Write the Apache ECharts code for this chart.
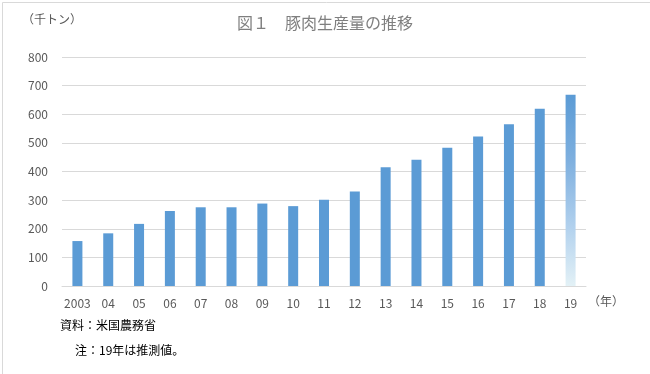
<!DOCTYPE html>
<html><head><meta charset="utf-8">
<script src="https://cdn.jsdelivr.net/npm/echarts@6/dist/echarts.min.js"></script>
<style>html,body{margin:0;padding:0;background:#fff;}#c{width:650px;height:374px;}</style>
</head><body><div id="c"></div>
<script>
const categories = ['2003','04','05','06','07','08','09','10','11','12','13','14','15','16','17','18','19'];
const production = [157,184,217,262,275,275,288,279,301,330,415,441,483,522,565,619,668];
const yTicks = [0,100,200,300,400,500,600,700,800];

const FONT = '"Noto Sans CJK JP", "Noto Sans", sans-serif';
const barBlue = '#5b9bd5';
const data = production.map((v, i) => {
  if (i === production.length - 1) {
    return { value: v, itemStyle: { color: new echarts.graphic.LinearGradient(0,0,0,1,[
      {offset:0,color:'#5b9bd5'},{offset:0.35,color:'#7fb0df'},{offset:0.7,color:'#b3d2ee'},{offset:1,color:'#e3f1f6'}]) } };
  }
  return v;
});

const chart = echarts.init(document.getElementById('c'), null, {renderer:'canvas'});
chart.setOption({
  backgroundColor: '#ffffff',
  animation: false,
  title: {
    text: '図１　豚肉生産量の推移', left: 'center', top: 10,
    textStyle: { fontFamily: FONT, fontSize: 16, fontWeight: 'normal', color: '#7f7f7f' }
  },
  grid: { left: 62, right: 64, top: 57, bottom: 88, containLabel: false },
  xAxis: {
    type: 'category', data: categories,
    axisLine: { lineStyle: { color: '#d9d9d9' } },
    axisTick: { show: false },
    axisLabel: { interval: 0, color: '#595959', fontSize: 12, fontFamily: FONT, margin: 11 }
  },
  yAxis: {
    type: 'value', min: yTicks[0], max: yTicks[yTicks.length-1], interval: 100,
    axisLine: { show: false }, axisTick: { show: false },
    splitLine: { lineStyle: { color: '#d9d9d9' } },
    axisLabel: { color: '#595959', fontSize: 12, fontFamily: FONT, margin: 14 }
  },
  series: [{ type: 'bar', data: data, barWidth: 10, itemStyle: { color: barBlue } }],
  graphic: [
    { type: 'rect', left: 0, top: 0, shape: { x: 0.5, y: 0.5, width: 648, height: 372 }, style: { fill: 'none', stroke: '#d9d9d9', lineWidth: 1 }, silent: true },
    { type: 'text', left: 22, top: 13, style: { text: '（千トン）', fontSize: 12, fontFamily: FONT, fill: '#595959' } },
    { type: 'text', left: 588, top: 295, style: { text: '（年）', fontSize: 12, fontFamily: FONT, fill: '#595959' } },
    { type: 'text', left: 60, top: 319, style: { text: '資料：米国農務省', fontSize: 12, fontFamily: FONT, fill: '#000' } },
    { type: 'text', left: 75, top: 344, style: { text: '注：19年は推測値。', fontSize: 12, fontFamily: FONT, fill: '#000' } }
  ]
});
</script></body></html>
